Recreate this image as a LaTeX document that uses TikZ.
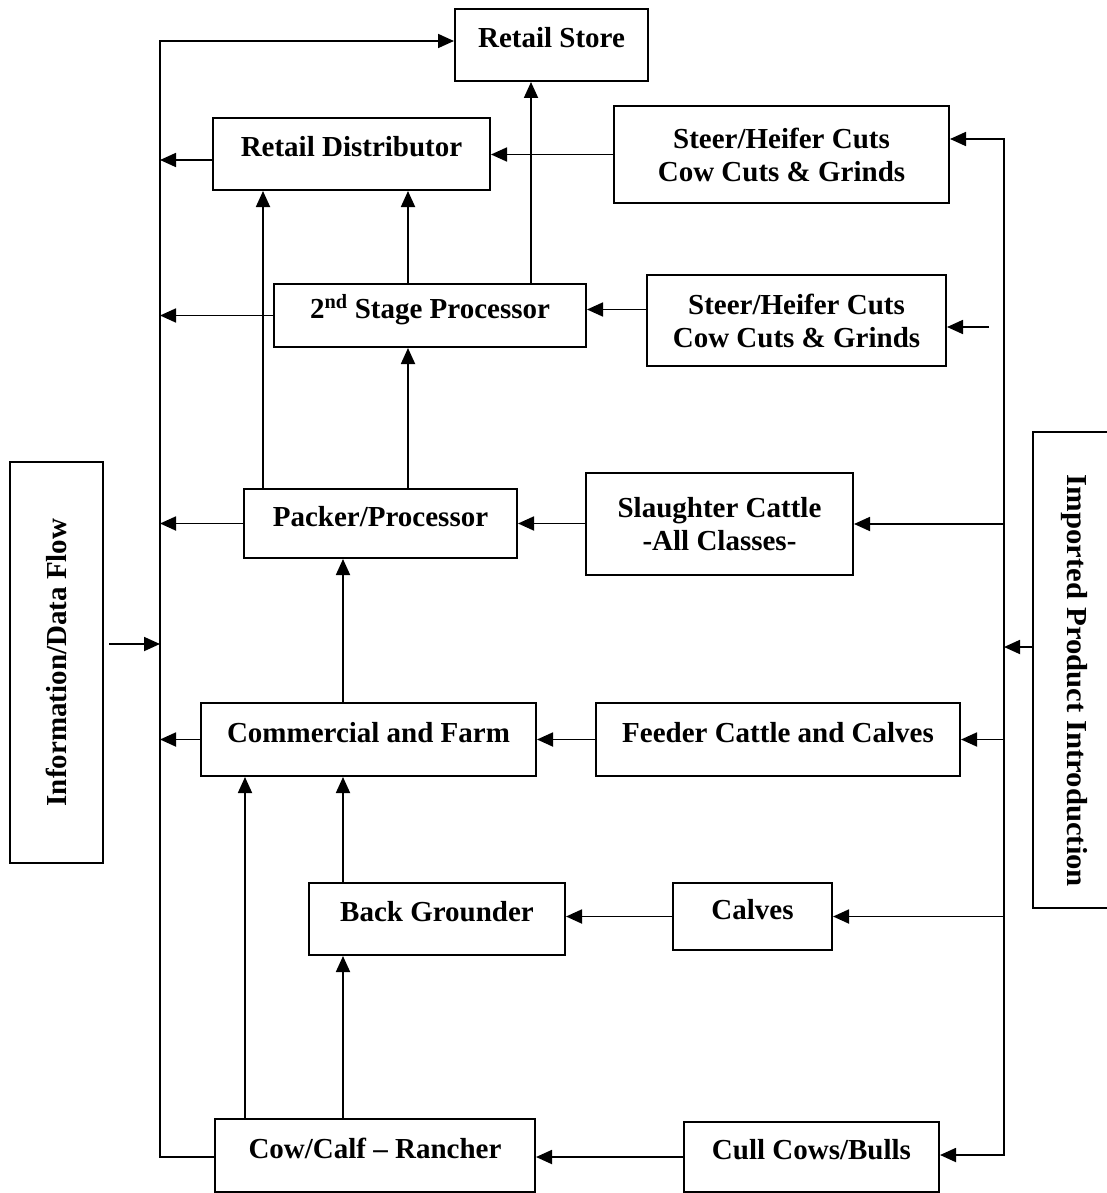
\documentclass[tikz,border=0pt]{standalone}
\usepackage{fontspec}
\setmainfont{Liberation Serif}
\usetikzlibrary{arrows.meta}

\begin{document}
\begin{tikzpicture}[x=1pt,y=-1pt]
% Diagram style
\tikzset{
    box/.style={draw, line width=2pt, inner sep=0pt, align=center,
        font=\fontsize{29}{33}\selectfont\bfseries},
    onebox/.style={box, text height=19.5pt, text depth=14.5pt},
    conn/.style={line width=1.8pt},
    arr/.style={conn, -{Triangle[length=16pt,width=14pt]}},
    arrs/.style={conn, {Triangle[length=16pt,width=14pt]}-{Triangle[length=16pt,width=14pt]}}
}
\useasboundingbox (0,0) rectangle (1107,1193);

% Boxes
\node[onebox, minimum width=193pt, minimum height=72pt] (Store) at (551.5,45){Retail Store};
\node[onebox, minimum width=277pt, minimum height=72pt] (Rdist) at (351.5,154){Retail Distributor};
\node[box, minimum width=335pt, minimum height=97pt] (Cutsa) at (781.5,154.5){Steer/Heifer Cuts\\Cow Cuts \& Grinds};

\node[onebox, minimum width=312pt, minimum height=63pt] (Stage) at (430,315.5){2\textsuperscript{nd} Stage Processor};
\node[box, minimum width=299pt, minimum height=91pt] (Cutsb) at (796.5,320.5){Steer/Heifer Cuts\\Cow Cuts \& Grinds};

\node[onebox, minimum width=273pt, minimum height=69pt] (Packer) at (380.5,523.5){Packer/Processor};
\node[box, minimum width=267pt, minimum height=102pt] (Slaughter) at (719.5,524){Slaughter Cattle\\-All Classes-};

\node[onebox, minimum width=335pt, minimum height=73pt] (Comm) at (368.5,739.5){Commercial and Farm};
\node[onebox, minimum width=364pt, minimum height=73pt] (Feeder) at (778,739.5){Feeder Cattle and Calves};

\node[onebox, minimum width=256pt, minimum height=72pt] (Back) at (437,919){Back Grounder};
\node[onebox, minimum width=159pt, minimum height=67pt] (Calves) at (752.5,916.5){Calves};

\node[onebox, minimum width=320pt, minimum height=73pt] (Cow) at (375,1155.5){Cow/Calf -- Rancher};
\node[onebox, minimum width=255pt, minimum height=70pt] (Cull) at (811.5,1157){Cull Cows/Bulls};

\node[box, rotate=90, minimum width=401pt, minimum height=93pt] (Info) at (56.5,662.5){Information/Data Flow};
\node[box, rotate=-90, minimum width=476pt, minimum height=82pt] (Imported) at (1074,670){\hspace*{22pt}\addfontfeatures{FakeStretch=1.06}Imported Product Introduction};

% Bus lines
\coordinate (Ltop) at (160,41);
\coordinate (Lbot) at (160,1157);
\coordinate (Lin) at (160,644);
\coordinate (Rtop) at (1004,139);
\coordinate (Rbot) at (1004,1155);
\coordinate (Rin) at (1004,647);
\coordinate (Stub) at (989,327);

% Columns of the upward arrows
\coordinate (Ca) at (408,0);
\coordinate (Cb) at (531,0);
\coordinate (Cc) at (263,0);
\coordinate (Cd) at (343,0);
\coordinate (Ce) at (245,0);

% Connection
\draw[arr] (Cow.west |- Lbot) -- (Lbot) -- (Ltop) -- (Store.west |- Ltop);
\draw[arrs] (Rtop -| Cutsa.east) -- (Rtop) -- (Rbot) -- (Rbot -| Cull.east);

\draw[arr] ([yshift=-6pt]Rdist.west) -- ([yshift=-6pt]Rdist.west -| Ltop);
\draw[arr] (Stage.west) -- (Stage.west -| Ltop);
\draw[arr] (Packer.west) -- (Packer.west -| Ltop);
\draw[arr] (Comm.west) -- (Comm.west -| Ltop);
\draw[arr] ([xshift=5pt]Info.south |- Lin) -- (Lin);

\draw[arr] (Cutsa.west) -- (Cutsa.west -| Rdist.east);
\draw[arr] ([yshift=6pt]Stage.east -| Cutsb.west) -- ([yshift=6pt]Stage.east);
\draw[arr] (Packer -| Slaughter.west) -- (Packer);
\draw[arr] (Feeder) -- (Comm);
\draw[arr] (Calves.west) -- (Calves.west -| Back.east);
\draw[arr] (Cull.west) -- (Cull.west -| Cow.east);

\draw[arr] (Stub) -- (Stub -| Cutsb.east);
\draw[arr] (Rin -| Imported.south) -- (Rin);
\draw[arr] (Slaughter -| Rbot) -- (Slaughter.east);
\draw[arr] (Feeder -| Rbot) -- (Feeder.east);
\draw[arr] (Calves -| Rbot) -- (Calves.east);

\draw[arr] (Stage.north -| Ca) -- (Rdist.south -| Ca);
\draw[arr] (Stage.north -| Cb) -- (Store.south -| Cb);
\draw[arr] (Packer.north -| Cc) -- (Rdist.south -| Cc);
\draw[arr] (Packer.north -| Ca) -- (Stage.south -| Ca);
\draw[arr] (Comm.north -| Cd) -- (Packer.south -| Cd);
\draw[arr] (Back.north -| Cd) -- (Comm.south -| Cd);
\draw[arr] (Cow.north -| Cd) -- (Back.south -| Cd);
\draw[arr] (Cow.north -| Ce) -- (Comm.south -| Ce);
\end{tikzpicture}
\end{document}
